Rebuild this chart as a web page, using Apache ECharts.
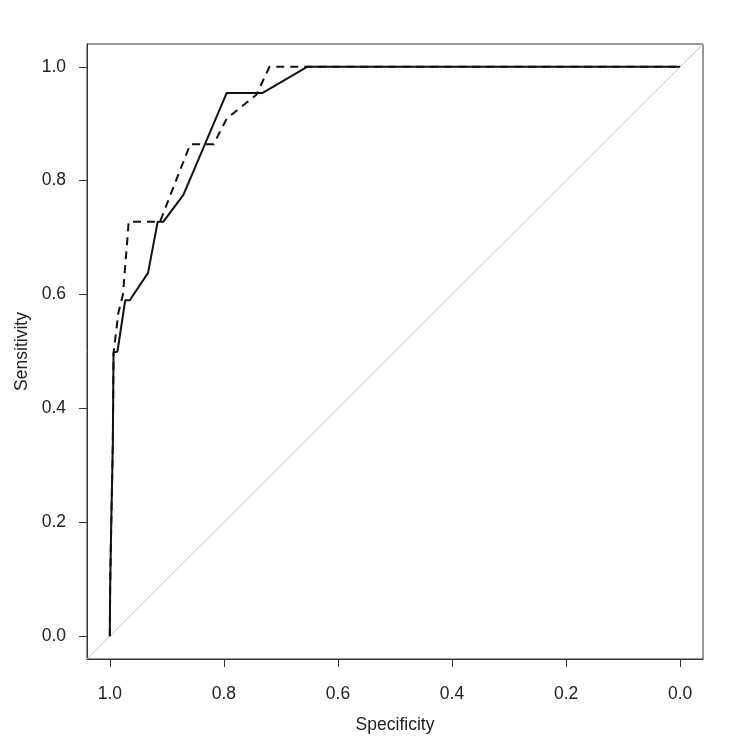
<!DOCTYPE html>
<html>
<head>
<meta charset="utf-8">
<script src="https://cdn.jsdelivr.net/npm/echarts@6.0.0/dist/echarts.min.js"></script>
<style>
  html, body { margin: 0; padding: 0; background: #fff; }
  #rocChart { width: 750px; height: 750px; }
</style>
</head>
<body>
<div id="rocChart"></div>
<script>
// tick positions shared by both axes
const tickValues = [0, 0.2, 0.4, 0.6, 0.8, 1.0];

// ROC curve 1 (solid): [specificity, sensitivity]
const rocSolid = [
  [1.0, 0], [0.9994, 0.087], [0.9977, 0.186], [0.9947, 0.339], [0.9935, 0.498],
  [0.9866, 0.50], [0.973, 0.59], [0.965, 0.59], [0.933, 0.638], [0.916, 0.728],
  [0.906, 0.728], [0.871, 0.775], [0.795, 0.954], [0.732, 0.954], [0.654, 1.0],
  [0.0, 1.0]
];

// ROC curve 2 (dashed)
const rocDashed = [
  [1.0, 0], [0.9994, 0.087], [0.9977, 0.186], [0.9947, 0.339], [0.9935, 0.497],
  [0.985, 0.568], [0.977, 0.60], [0.969, 0.70], [0.967, 0.728], [0.912, 0.728],
  [0.859, 0.864], [0.818, 0.864], [0.795, 0.909], [0.743, 0.951], [0.720, 1.0],
  [0.0, 1.0]
];

// chance line, corner to corner of the plot region
const diagLine = [[1.04, -0.04], [-0.04, 1.04]];

const chart = echarts.init(document.getElementById("rocChart"));

const axisText = {
  color: "#222",
  fontSize: 17.5,
  fontFamily: "Liberation Sans, Arial, sans-serif"
};

const option = {
  animation: false,
  backgroundColor: "#fff",
  grid: {
    left: 87,
    right: 47,
    top: 44,
    bottom: 91,
    show: true,
    borderColor: "#333",
    borderWidth: 1,
    backgroundColor: "transparent"
  },
  xAxis: {
    type: "value",
    inverse: true,
    min: -0.04,
    max: 1.04,
    name: "Specificity",
    nameLocation: "middle",
    nameGap: 57,
    nameTextStyle: axisText,
    axisLine: { show: true, onZero: false, lineStyle: { color: "#333", width: 1 } },
    axisTick: {
      show: true,
      inside: false,
      length: 8,
      customValues: tickValues,
      lineStyle: { color: "#333" }
    },
    axisLabel: {
      customValues: tickValues,
      margin: 26,
      formatter: (v) => v.toFixed(1),
      ...axisText
    },
    splitLine: { show: false }
  },
  yAxis: {
    type: "value",
    min: -0.04,
    max: 1.04,
    name: "Sensitivity",
    nameLocation: "middle",
    nameGap: 56,
    nameRotate: 90,
    nameTextStyle: axisText,
    axisLine: { show: true, onZero: false, lineStyle: { color: "#333", width: 1 } },
    axisTick: {
      show: true,
      inside: false,
      length: 8,
      customValues: tickValues,
      lineStyle: { color: "#333" }
    },
    axisLabel: {
      customValues: tickValues,
      margin: 21,
      formatter: (v) => v.toFixed(1),
      ...axisText
    },
    splitLine: { show: false }
  },
  series: [
    {
      name: "diagonal",
      type: "line",
      data: diagLine,
      symbol: "none",
      silent: true,
      clip: true,
      lineStyle: { color: "#c4c4c4", width: 1 }
    },
    {
      name: "dashed",
      type: "line",
      data: rocDashed,
      symbol: "none",
      lineStyle: { color: "#111", width: 2, type: [8, 6] }
    },
    {
      name: "solid",
      type: "line",
      data: rocSolid,
      symbol: "none",
      lineStyle: { color: "#111", width: 2, type: "solid" }
    }
  ]
};

chart.setOption(option);
</script>
</body>
</html>
